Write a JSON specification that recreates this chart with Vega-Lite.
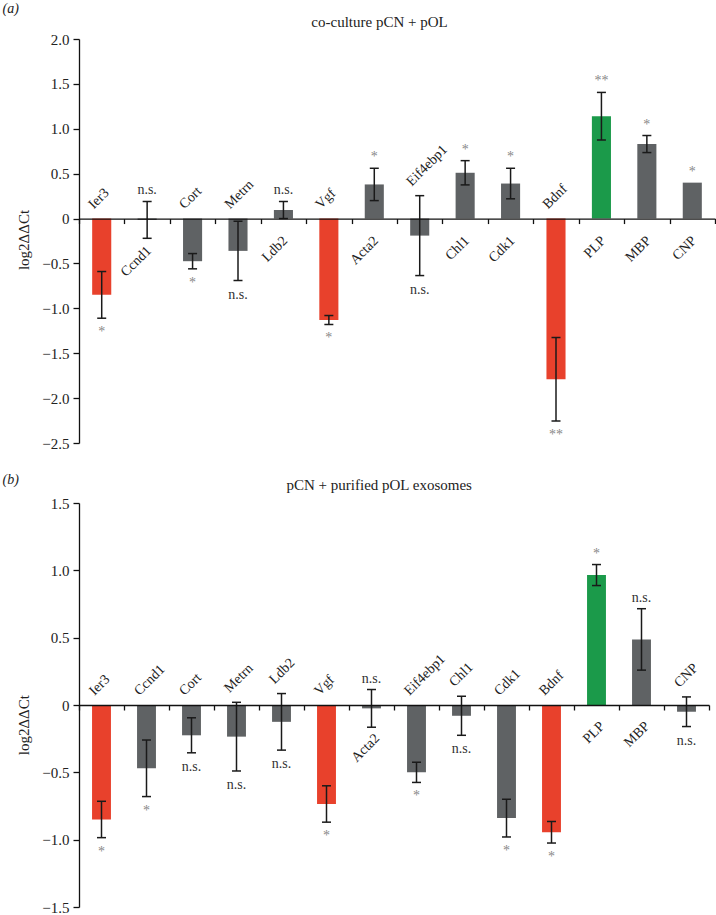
{
  "$schema": "https://vega.github.io/schema/vega-lite/v6.json",
  "padding": {"left": 2, "top": 1, "right": 0, "bottom": 0},
  "bounds": "flush",
  "spacing": 60,
  "background": "white",
  "config": {
    "font": "Liberation Serif",
    "view": {"stroke": null},
    "axis": {"labelFont": "Liberation Serif", "titleFont": "Liberation Serif", "labelFontSize": 15, "titleFontSize": 15, "titleFontWeight": "normal", "labelColor": "#222", "titleColor": "#222", "domainColor": "#111", "tickColor": "#111", "domainWidth": 1.3, "tickWidth": 1.3, "grid": false}
  },
  "datasets": {
    "a": [
      {"gene": "Ier3", "value": -0.85, "err": 0.26, "group": "key", "sig": "*"},
      {"gene": "Ccnd1", "value": -0.015, "err": 0.205, "group": "other", "sig": "n.s."},
      {"gene": "Cort", "value": -0.475, "err": 0.085, "group": "other", "sig": "*"},
      {"gene": "Metrn", "value": -0.36, "err": 0.33, "group": "other", "sig": "n.s."},
      {"gene": "Ldb2", "value": 0.095, "err": 0.095, "group": "other", "sig": "n.s."},
      {"gene": "Vgf", "value": -1.13, "err": 0.05, "group": "key", "sig": "*"},
      {"gene": "Acta2", "value": 0.38, "err": 0.18, "group": "other", "sig": "*"},
      {"gene": "Eif4ebp1", "value": -0.19, "err": 0.445, "group": "other", "sig": "n.s."},
      {"gene": "Chl1", "value": 0.51, "err": 0.135, "group": "other", "sig": "*"},
      {"gene": "Cdk1", "value": 0.39, "err": 0.17, "group": "other", "sig": "*"},
      {"gene": "Bdnf", "value": -1.79, "err": 0.465, "group": "key", "sig": "**"},
      {"gene": "PLP", "value": 1.14, "err": 0.265, "group": "plp", "sig": "**"},
      {"gene": "MBP", "value": 0.83, "err": 0.095, "group": "other", "sig": "*"},
      {"gene": "CNP", "value": 0.40, "err": 0, "group": "other", "sig": "*"}
    ],
    "b": [
      {"gene": "Ier3", "value": -0.85, "err": 0.135, "group": "key", "sig": "*"},
      {"gene": "Ccnd1", "value": -0.47, "err": 0.21, "group": "other", "sig": "*"},
      {"gene": "Cort", "value": -0.225, "err": 0.13, "group": "other", "sig": "n.s."},
      {"gene": "Metrn", "value": -0.235, "err": 0.255, "group": "other", "sig": "n.s."},
      {"gene": "Ldb2", "value": -0.125, "err": 0.21, "group": "other", "sig": "n.s."},
      {"gene": "Vgf", "value": -0.735, "err": 0.135, "group": "key", "sig": "*"},
      {"gene": "Acta2", "value": -0.025, "err": 0.14, "group": "other", "sig": "n.s."},
      {"gene": "Eif4ebp1", "value": -0.5, "err": 0.075, "group": "other", "sig": "*"},
      {"gene": "Chl1", "value": -0.08, "err": 0.145, "group": "other", "sig": "n.s."},
      {"gene": "Cdk1", "value": -0.84, "err": 0.14, "group": "other", "sig": "*"},
      {"gene": "Bdnf", "value": -0.945, "err": 0.08, "group": "key", "sig": "*"},
      {"gene": "PLP", "value": 0.965, "err": 0.078, "group": "plp", "sig": "*"},
      {"gene": "MBP", "value": 0.487, "err": 0.228, "group": "other", "sig": "n.s."},
      {"gene": "CNP", "value": -0.05, "err": 0.11, "group": "other", "sig": "n.s."}
    ]
  },
  "vconcat": [
    {
      "width": 636,
      "height": 404,
      "data": {"name": "a"},
      "resolve": {"axis": {"x": "independent", "y": "independent"}},
      "layer": [
        {
          "mark": {"type": "bar", "width": {"band": 0.42}},
          "encoding": {
            "x": {"field": "gene", "type": "nominal", "sort": null, "scale": {"paddingInner": 0, "paddingOuter": 0},
              "axis": {"orient": "bottom", "offset": -224.44, "labels": false, "title": null, "tickBand": "extent", "tickSize": 5, "zindex": 2}},
            "y": {"field": "value", "type": "quantitative", "scale": {"domain": [-2.5, 2], "nice": false},
              "axis": {"orient": "left", "values": [2, 1.5, 1, 0.5, 0, -0.5, -1, -1.5, -2, -2.5], "labelExpr": "datum.value === 0 ? '0' : format(datum.value, '.1f')", "tickSize": 6, "labelPadding": 4,
                "title": "log2ΔΔCt", "titleX": -51, "titleY": 200.5, "titleAngle": -90, "titleAlign": "center", "titleBaseline": "alphabetic"}},
            "color": {"field": "group", "type": "nominal", "scale": {"domain": ["key", "plp", "other"], "range": ["#e8412c", "#1b9a4a", "#5f6264"]}, "legend": null}
          }
        },
        {
          "transform": [{"filter": "datum.err > 0"}, {"calculate": "datum.value + datum.err", "as": "hi"}, {"calculate": "datum.value - datum.err", "as": "lo"}],
          "mark": {"type": "rule", "strokeWidth": 1.5, "color": "#1a1a1a"},
          "encoding": {
            "x": {"field": "gene", "type": "nominal", "sort": null,
              "axis": {"orient": "top", "domain": false, "ticks": false, "labels": false, "title": "co-culture pCN + pOL", "titleX": 300, "titleY": -13, "titleAlign": "center", "titleBaseline": "alphabetic", "titleAngle": 0}},
            "y": {"field": "lo", "type": "quantitative",
              "axis": {"orient": "right", "domain": false, "ticks": false, "labels": false, "values": [], "title": "(a)", "titleFontSize": 14, "titleFontStyle": "italic", "titleX": -713, "titleY": -26.5, "titleAngle": 0, "titleAlign": "left", "titleBaseline": "alphabetic"}},
            "y2": {"field": "hi"}
          }
        },
        {
          "transform": [{"filter": "datum.err > 0"}, {"calculate": "datum.value + datum.err", "as": "hi"}],
          "mark": {"type": "tick", "size": 9, "thickness": 1.5, "color": "#1a1a1a", "opacity": 1},
          "encoding": {
            "x": {"field": "gene", "type": "nominal", "sort": null, "axis": null},
            "y": {"field": "hi", "type": "quantitative", "axis": null}
          }
        },
        {
          "transform": [{"filter": "datum.err > 0"}, {"calculate": "datum.value - datum.err", "as": "lo"}],
          "mark": {"type": "tick", "size": 9, "thickness": 1.5, "color": "#1a1a1a", "opacity": 1},
          "encoding": {
            "x": {"field": "gene", "type": "nominal", "sort": null, "axis": null},
            "y": {"field": "lo", "type": "quantitative", "axis": null}
          }
        },
        {
          "transform": [{"filter": "datum.value <= -0.04"}, {"calculate": "max(0, datum.value + datum.err)", "as": "up"}, {"calculate": "datum.gene", "as": "name"}],
          "mark": {"type": "text", "angle": 315, "align": "left", "baseline": "alphabetic", "fontSize": 14, "color": "#222", "xOffset": -8, "yOffset": -9},
          "encoding": {
            "x": {"field": "gene", "type": "nominal", "sort": null, "axis": null},
            "y": {"field": "up", "type": "quantitative", "axis": null},
            "text": {"field": "name"}
          }
        },
        {
          "transform": [{"filter": "datum.value > -0.04"}, {"calculate": "min(-0.17, datum.value - datum.err - 0.06)", "as": "dn"}, {"calculate": "datum.gene", "as": "name"}],
          "mark": {"type": "text", "angle": 315, "align": "right", "baseline": "top", "fontSize": 14, "color": "#222", "xOffset": -3},
          "encoding": {
            "x": {"field": "gene", "type": "nominal", "sort": null, "axis": null},
            "y": {"field": "dn", "type": "quantitative", "axis": null},
            "text": {"field": "name"}
          }
        },
        {
          "transform": [{"filter": "datum.value > -0.04"}, {"calculate": "datum.value + datum.err", "as": "hi"}],
          "mark": {"type": "text", "align": "center", "baseline": "middle", "fontSize": 14, "yOffset": -11},
          "encoding": {
            "x": {"field": "gene", "type": "nominal", "sort": null, "axis": null},
            "y": {"field": "hi", "type": "quantitative", "axis": null},
            "text": {"field": "sig"},
            "color": {"condition": {"test": "datum.sig === 'n.s.'", "value": "#333"}, "value": "#888"}
          }
        },
        {
          "transform": [{"filter": "datum.value <= -0.04"}, {"calculate": "datum.value - datum.err", "as": "lo"}],
          "mark": {"type": "text", "align": "center", "baseline": "middle", "fontSize": 14, "yOffset": 14},
          "encoding": {
            "x": {"field": "gene", "type": "nominal", "sort": null, "axis": null},
            "y": {"field": "lo", "type": "quantitative", "axis": null},
            "text": {"field": "sig"},
            "color": {"condition": {"test": "datum.sig === 'n.s.'", "value": "#333"}, "value": "#888"}
          }
        }
      ]
    },
    {
      "width": 630,
      "height": 404,
      "data": {"name": "b"},
      "resolve": {"axis": {"x": "independent", "y": "independent"}},
      "layer": [
        {
          "mark": {"type": "bar", "width": {"band": 0.42}},
          "encoding": {
            "x": {"field": "gene", "type": "nominal", "sort": null, "scale": {"paddingInner": 0, "paddingOuter": 0},
              "axis": {"orient": "bottom", "offset": -202, "labels": false, "title": null, "tickBand": "extent", "tickSize": 5, "zindex": 2}},
            "y": {"field": "value", "type": "quantitative", "scale": {"domain": [-1.5, 1.5], "nice": false},
              "axis": {"orient": "left", "values": [1.5, 1, 0.5, 0, -0.5, -1, -1.5], "labelExpr": "datum.value === 0 ? '0' : format(datum.value, '.1f')", "tickSize": 6, "labelPadding": 4,
                "title": "log2ΔΔCt", "titleX": -51, "titleY": 221.7, "titleAngle": -90, "titleAlign": "center", "titleBaseline": "alphabetic"}},
            "color": {"field": "group", "type": "nominal", "scale": {"domain": ["key", "plp", "other"], "range": ["#e8412c", "#1b9a4a", "#5f6264"]}, "legend": null}
          }
        },
        {
          "transform": [{"filter": "datum.err > 0"}, {"calculate": "datum.value + datum.err", "as": "hi"}, {"calculate": "datum.value - datum.err", "as": "lo"}],
          "mark": {"type": "rule", "strokeWidth": 1.5, "color": "#1a1a1a"},
          "encoding": {
            "x": {"field": "gene", "type": "nominal", "sort": null,
              "axis": {"orient": "top", "domain": false, "ticks": false, "labels": false, "title": "pCN + purified pOL exosomes", "titleX": 299.7, "titleY": -13.3, "titleAlign": "center", "titleBaseline": "alphabetic", "titleAngle": 0}},
            "y": {"field": "lo", "type": "quantitative",
              "axis": {"orient": "right", "domain": false, "ticks": false, "labels": false, "values": [], "title": "(b)", "titleFontSize": 14, "titleFontStyle": "italic", "titleX": -707, "titleY": -19.3, "titleAngle": 0, "titleAlign": "left", "titleBaseline": "alphabetic"}},
            "y2": {"field": "hi"}
          }
        },
        {
          "transform": [{"filter": "datum.err > 0"}, {"calculate": "datum.value + datum.err", "as": "hi"}],
          "mark": {"type": "tick", "size": 9, "thickness": 1.5, "color": "#1a1a1a", "opacity": 1},
          "encoding": {
            "x": {"field": "gene", "type": "nominal", "sort": null, "axis": null},
            "y": {"field": "hi", "type": "quantitative", "axis": null}
          }
        },
        {
          "transform": [{"filter": "datum.err > 0"}, {"calculate": "datum.value - datum.err", "as": "lo"}],
          "mark": {"type": "tick", "size": 9, "thickness": 1.5, "color": "#1a1a1a", "opacity": 1},
          "encoding": {
            "x": {"field": "gene", "type": "nominal", "sort": null, "axis": null},
            "y": {"field": "lo", "type": "quantitative", "axis": null}
          }
        },
        {
          "transform": [{"filter": "datum.value <= -0.04"}, {"calculate": "max(0, datum.value + datum.err)", "as": "up"}, {"calculate": "datum.gene", "as": "name"}],
          "mark": {"type": "text", "angle": 315, "align": "left", "baseline": "alphabetic", "fontSize": 14, "color": "#222", "xOffset": -7, "yOffset": -9},
          "encoding": {
            "x": {"field": "gene", "type": "nominal", "sort": null, "axis": null},
            "y": {"field": "up", "type": "quantitative", "axis": null},
            "text": {"field": "name"}
          }
        },
        {
          "transform": [{"filter": "datum.value > -0.04"}, {"calculate": "min(-0.105, datum.value - datum.err - 0.03)", "as": "dn"}, {"calculate": "datum.gene", "as": "name"}],
          "mark": {"type": "text", "angle": 315, "align": "right", "baseline": "top", "fontSize": 14, "color": "#222", "xOffset": 1},
          "encoding": {
            "x": {"field": "gene", "type": "nominal", "sort": null, "axis": null},
            "y": {"field": "dn", "type": "quantitative", "axis": null},
            "text": {"field": "name"}
          }
        },
        {
          "transform": [{"filter": "datum.value > -0.04"}, {"calculate": "datum.value + datum.err", "as": "hi"}],
          "mark": {"type": "text", "align": "center", "baseline": "middle", "fontSize": 14, "yOffset": -11},
          "encoding": {
            "x": {"field": "gene", "type": "nominal", "sort": null, "axis": null},
            "y": {"field": "hi", "type": "quantitative", "axis": null},
            "text": {"field": "sig"},
            "color": {"condition": {"test": "datum.sig === 'n.s.'", "value": "#333"}, "value": "#888"}
          }
        },
        {
          "transform": [{"filter": "datum.value <= -0.04"}, {"calculate": "datum.value - datum.err", "as": "lo"}],
          "mark": {"type": "text", "align": "center", "baseline": "middle", "fontSize": 14, "yOffset": 14},
          "encoding": {
            "x": {"field": "gene", "type": "nominal", "sort": null, "axis": null},
            "y": {"field": "lo", "type": "quantitative", "axis": null},
            "text": {"field": "sig"},
            "color": {"condition": {"test": "datum.sig === 'n.s.'", "value": "#333"}, "value": "#888"}
          }
        }
      ]
    }
  ]
}
